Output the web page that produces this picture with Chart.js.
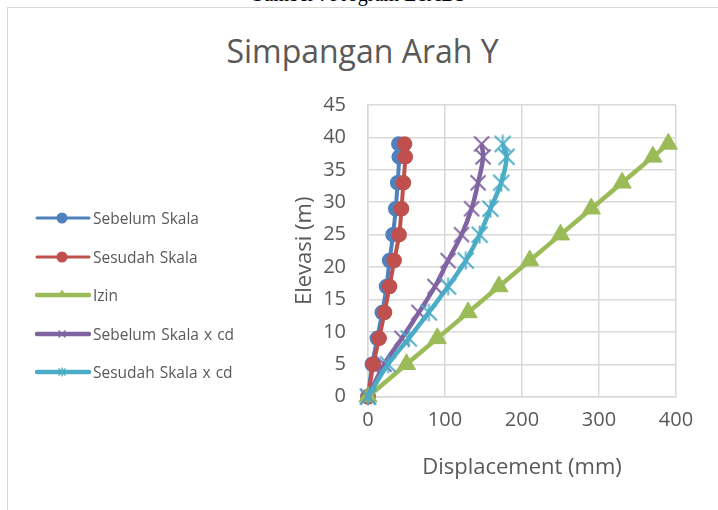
<!DOCTYPE html>
<html>
<head>
<meta charset="utf-8">
<script src="https://cdn.jsdelivr.net/npm/chart.js@4.4.1/dist/chart.umd.min.js"></script>
<style>
  html, body { margin:0; padding:0; background:#fff; }
  body { width:718px; height:510px; overflow:hidden; position:relative; font-family:"Open Sans", sans-serif; }
  #src { position:absolute; top:-17px; left:0; width:718px; text-align:center; font:20px "Liberation Serif", serif; color:#000; }
  #frame { position:absolute; left:7px; top:7px; width:740px; height:540px; border:1.5px solid #d9d9d9; box-sizing:border-box; background:transparent; }
  #title { position:absolute; left:7px; top:33px; width:711px; text-align:center; font-size:32px; line-height:36px; color:#595959; }
  #c { position:absolute; left:0; top:0; }
  #legend { position:absolute; left:35px; top:0; color:#595959; font-size:15.5px; word-spacing:1px; }
  .item { position:absolute; left:0; height:20px; display:flex; align-items:center; white-space:nowrap; }
  .item svg { margin-right:2px; }
</style>
</head>
<body>
<div id="src">Sumber : Program ETABS</div>
<div id="frame"></div>
<div id="title">Simpangan Arah Y</div>
<canvas id="c" width="718" height="510"></canvas>
<div id="legend"></div>
<script>
// ---- data ----
const elevasi = [0, 5, 9, 13, 17, 21, 25, 29, 33, 37, 39];
const sebelumSkala = [0, 5.5, 12, 18.5, 24, 28, 32.5, 36, 38.5, 40.5, 40];
const sesudahSkala = [0, 7, 14.5, 21.5, 28, 34, 40.5, 43.5, 46, 48.5, 47.5];
const izin = [0, 50, 90, 130, 170, 210, 250, 290, 330, 370, 390];
const sebelumSkalaCd = [0, 21, 44, 66, 87, 104, 121.5, 134.5, 143, 149.5, 147.5];
const sesudahSkalaCd = [0, 26, 53, 79, 104, 127, 145, 159, 173, 180, 175];
const seriesNames = ["Sebelum Skala", "Sesudah Skala", "Izin", "Sebelum Skala x cd", "Sesudah Skala x cd"];
const xTicks = [0, 100, 200, 300, 400];
const yTicks = [0, 5, 10, 15, 20, 25, 30, 35, 40, 45];

const colors = ["#4F81BD", "#C0504D", "#9BBB59", "#8064A2", "#4BACC6"];

function markerCanvas(color, star, size) {
  const c = document.createElement("canvas");
  c.width = size; c.height = size;
  const g = c.getContext("2d");
  g.strokeStyle = color; g.lineWidth = 1.8; g.lineCap = "butt";
  const m = 1.5, e = size - 1.5;
  g.beginPath();
  g.moveTo(m, m); g.lineTo(e, e);
  g.moveTo(e, m); g.lineTo(m, e);
  if (star) { g.moveTo(size / 2, 0.5); g.lineTo(size / 2, size - 0.5); }
  g.stroke();
  return c;
}

const pts = (xs) => xs.map((x, i) => ({ x: x, y: elevasi[i] }));
const seriesData = [sebelumSkala, sesudahSkala, izin, sebelumSkalaCd, sesudahSkalaCd];
const styles = [
  { pointStyle: "circle", pointRadius: 7, pointBorderWidth: 1.5 },
  { pointStyle: "circle", pointRadius: 7, pointBorderWidth: 1.5 },
  { pointStyle: "triangle", pointRadius: 10.5, pointBorderWidth: 1 },
  { pointStyle: markerCanvas(colors[3], false, 18) },
  { pointStyle: markerCanvas(colors[4], true, 19) }
];

const datasets = seriesNames.map((name, i) => Object.assign({
  label: name,
  data: pts(seriesData[i]),
  showLine: true,
  borderColor: colors[i],
  backgroundColor: colors[i],
  pointBackgroundColor: colors[i],
  pointBorderColor: colors[i],
  borderWidth: i >= 2 ? 4.5 : 4,
  tension: 0.35,
  clip: false,
  order: seriesNames.length - i
}, styles[i]));

const tickFont = { family: "Open Sans", size: 20 };
const titleFont = { family: "Open Sans", size: 22 };

new Chart(document.getElementById("c"), {
  type: "scatter",
  data: { datasets: datasets },
  options: {
    responsive: false,
    animation: false,
    devicePixelRatio: 1,
    layout: { padding: { left: 288, right: 42, top: 105, bottom: 25.3 } },
    plugins: { legend: { display: false }, title: { display: false }, tooltip: { enabled: false } },
    scales: {
      x: {
        type: "linear", min: 0, max: 400,
        afterBuildTicks: (s) => { s.ticks = xTicks.map(v => ({ value: v })); },
        afterFit: (s) => { s.height = 88; },
        grid: { color: "#d9d9d9", lineWidth: 1.5, drawTicks: false },
        border: { color: "#d9d9d9", width: 1.5 },
        ticks: { color: "#595959", font: tickFont, padding: 12 },
        title: { display: true, text: "Displacement (mm)", color: "#595959", font: titleFont, padding: { top: 4, bottom: 4 } }
      },
      y: {
        type: "linear", min: 0, max: 45,
        afterBuildTicks: (s) => { s.ticks = yTicks.map(v => ({ value: v })); },
        afterFit: (s) => { s.width = 80; },
        grid: { color: "#d9d9d9", lineWidth: 1.5, drawTicks: false },
        border: { color: "#d9d9d9", width: 1.5 },
        ticks: { color: "#595959", font: tickFont, padding: 22 },
        title: { display: true, text: "Elevasi (m)", color: "#595959", font: titleFont, padding: { top: 4, bottom: 4 } }
      }
    }
  }
});

// ---- HTML legend (line + marker icons) ----
const legendRows = [218, 257, 295, 333.5, 372];
function iconSvg(i) {
  const c = colors[i];
  let mk = "";
  if (i < 2) mk = `<circle cx="27" cy="9" r="5.5" fill="${c}"/>`;
  else if (i === 2) mk = `<polygon points="27,3.5 32,11 22,11" fill="${c}"/>`;
  else if (i === 3) mk = `<path d="M23.5,5.5 L30.5,12.5 M30.5,5.5 L23.5,12.5" stroke="${c}" stroke-width="1.3"/>`;
  else mk = `<path d="M23.5,5.5 L30.5,12.5 M30.5,5.5 L23.5,12.5 M27,4.5 L27,13.5" stroke="${c}" stroke-width="1.3"/>`;
  const w = i >= 2 ? 4.5 : 3;
  return `<svg width="56" height="18" viewBox="0 0 56 18"><line x1="2" y1="9" x2="54" y2="9" stroke="${c}" stroke-width="${w}" stroke-linecap="round"/>${mk}</svg>`;
}
const lg = document.getElementById("legend");
seriesNames.forEach((n, i) => {
  const d = document.createElement("div");
  d.className = "item";
  d.style.top = (legendRows[i] - 10) + "px";
  d.innerHTML = iconSvg(i) + "<span>" + n + "</span>";
  lg.appendChild(d);
});
</script>
</body>
</html>
